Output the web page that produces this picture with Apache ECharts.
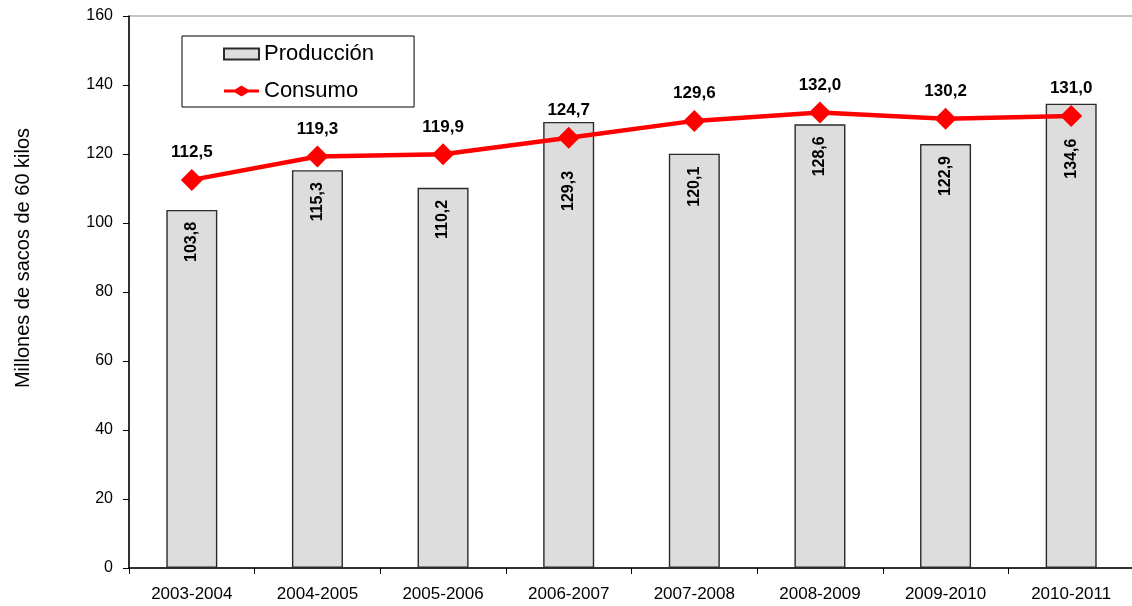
<!DOCTYPE html>
<html>
<head>
<meta charset="utf-8">
<script src="https://cdn.jsdelivr.net/npm/echarts@6/dist/echarts.min.js"></script>
<style>
  html, body { margin: 0; padding: 0; background: #fff; }
  #chart { width: 1132px; height: 606px; }
</style>
</head>
<body>
<div id="chart"></div>
<script>
const categories = ['2003-2004', '2004-2005', '2005-2006', '2006-2007', '2007-2008', '2008-2009', '2009-2010', '2010-2011'];
const produccion = [103.8, 115.3, 110.2, 129.3, 120.1, 128.6, 122.9, 134.6];
const consumo = [112.5, 119.3, 119.9, 124.7, 129.6, 132.0, 130.2, 131.0];
const yTicks = { min: 0, max: 160, interval: 20 };
const yAxisTitle = 'Millones de sacos de 60 kilos';

const FONT = '"Liberation Sans", Arial, sans-serif';
const fmt = v => v.toFixed(1).replace('.', ',');

// label distance from bar top (manual adjustments as in the original)
const barLabelDistance = [12, 12, 12, 49, 13, 12, 12, 35];

const chart = echarts.init(document.getElementById('chart'), null, { renderer: 'canvas' });

const lineDiamondIcon = 'path://M0,4H11L17.5,0L24,4H35V7H24L17.5,11L11,7H0Z';

const option = {
  backgroundColor: '#ffffff',
  animation: false,
  textStyle: { fontFamily: FONT },
  grid: {
    left: 129, right: -2, top: 16, bottom: 38,
    containLabel: false,
    outerBoundsMode: 'none',
    show: true,
    borderColor: '#8a8a8a',
    borderWidth: 1,
    backgroundColor: 'transparent'
  },
  legend: {
    orient: 'vertical',
    left: 182, top: 36,
    borderColor: '#000', borderWidth: 1,
    padding: [7, 40, 5, 41],
    itemWidth: 35, itemHeight: 11, itemGap: 15,
    textStyle: { fontFamily: FONT, fontSize: 22, color: '#000', lineHeight: 20 },
    data: [
      { name: 'Producción', icon: 'rect' },
      { name: 'Consumo', icon: lineDiamondIcon, itemStyle: { color: '#ff0000' } }
    ]
  },
  xAxis: {
    type: 'category',
    data: categories,
    boundaryGap: true,
    axisLine: { lineStyle: { color: '#000', width: 1.5 } },
    axisTick: { show: true, alignWithLabel: false, length: 6, inside: false, lineStyle: { color: '#000', width: 1 } },
    axisLabel: { color: '#000', fontSize: 17, fontFamily: FONT, margin: 18 },
    splitLine: { show: false }
  },
  yAxis: {
    type: 'value',
    min: yTicks.min, max: yTicks.max, interval: yTicks.interval,
    axisLine: { show: true, lineStyle: { color: '#000', width: 1.5 } },
    axisTick: { show: true, length: 6, lineStyle: { color: '#000', width: 1 } },
    axisLabel: { color: '#000', fontSize: 16, fontFamily: FONT, margin: 16 },
    splitLine: { show: false }
  },
  graphic: [{
    type: 'text',
    x: 23, y: 258,
    rotation: Math.PI / 2,
    style: {
      text: yAxisTitle,
      fontFamily: FONT, fontSize: 20, fill: '#000',
      align: 'center', verticalAlign: 'middle'
    }
  }],
  series: [
    {
      name: 'Producción',
      type: 'bar',
      barWidth: 51,
      z: 2,
      itemStyle: { color: '#dddddd', borderColor: '#2b2b2b', borderWidth: 1.4 },
      label: {
        show: true,
        position: 'insideTop',
        rotate: 90,
        align: 'right',
        verticalAlign: 'middle',
        color: '#000',
        fontFamily: FONT, fontSize: 16, fontWeight: 'bold',
        formatter: p => fmt(p.value)
      },
      data: produccion.map((v, i) => ({ value: v, label: { distance: barLabelDistance[i] } }))
    },
    {
      name: 'Consumo',
      type: 'line',
      z: 5,
      symbol: 'diamond',
      symbolSize: 22,
      lineStyle: { color: '#ff0000', width: 4.5 },
      itemStyle: { color: '#ff0000' },
      label: {
        show: true,
        position: 'top',
        distance: 8,
        color: '#000',
        fontFamily: FONT, fontSize: 17, fontWeight: 'bold',
        formatter: p => fmt(p.value)
      },
      data: consumo
    }
  ]
};

chart.setOption(option);
</script>
</body>
</html>
